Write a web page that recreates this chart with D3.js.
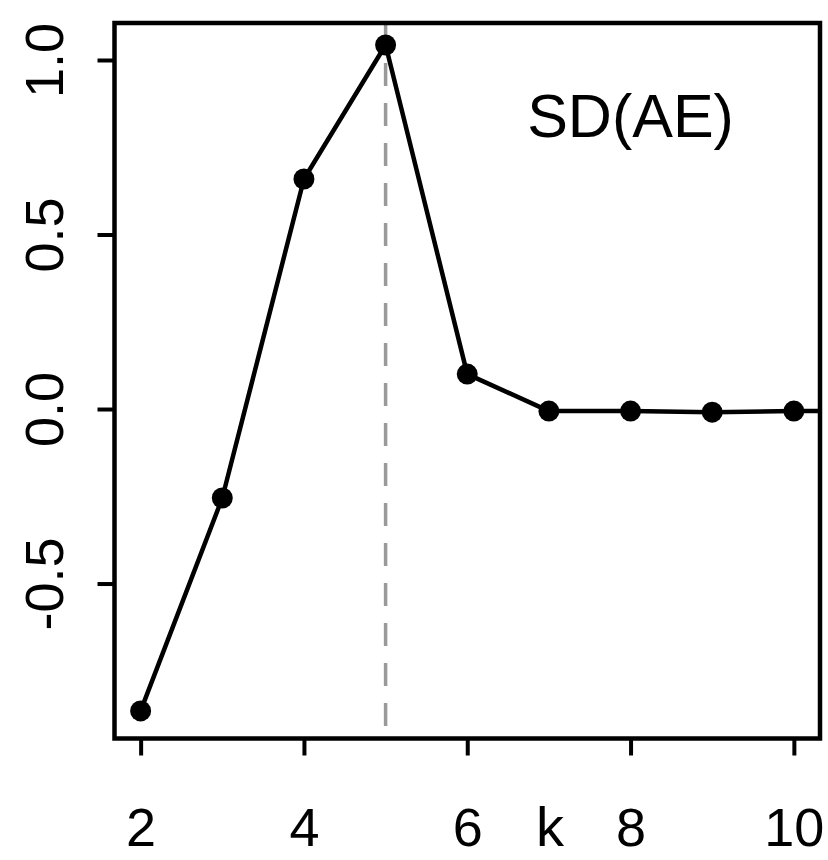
<!DOCTYPE html>
<html>
<head>
<meta charset="utf-8">
<script src="https://cdn.jsdelivr.net/npm/d3@7"></script>
<style>
  body { margin: 0; background: #fff; }
  text { font-family: "Liberation Sans", Arial, sans-serif; fill: #000; }
</style>
</head>
<body>
<div class="chart"></div>
<script>
// values
const K_VALUES = [2, 3, 4, 5, 6, 7, 8, 9, 10, 11];
const SD_AE = [-0.865, -0.255, 0.659, 1.043, 0.10, -0.006, -0.006, -0.009, -0.006, -0.006];
const X_TICKS = [2, 4, 6, 8, 10];
const Y_TICKS = [-0.5, 0.0, 0.5, 1.0];
const BEST_K = 5;
const LABEL = "SD(AE)";

const WIDTH = 828;
const HEIGHT = 860;
const BOX = { left: 114.5, right: 820, top: 23, bottom: 738.5 };
const FONT_SIZE = 54;

const data = K_VALUES.map((k, i) => ({ k: k, v: SD_AE[i] }));

const xScale = d3.scaleLinear().domain([1.68, 10.32]).range([BOX.left, BOX.right]);
const yScale = d3.scaleLinear().domain([-0.944, 1.106]).range([BOX.bottom, BOX.top]);

const svg = d3.select(".chart")
  .append("svg")
  .attr("width", WIDTH)
  .attr("height", HEIGHT);

svg.append("clipPath")
  .attr("id", "plot-clip")
  .append("rect")
  .attr("x", BOX.left)
  .attr("y", BOX.top)
  .attr("width", BOX.right - BOX.left)
  .attr("height", BOX.bottom - BOX.top);

const plot = svg.append("g").attr("clip-path", "url(#plot-clip)");

// dashed marker at chosen k
plot.append("line")
  .attr("x1", xScale(BEST_K))
  .attr("x2", xScale(BEST_K))
  .attr("y1", BOX.top)
  .attr("y2", BOX.bottom)
  .attr("stroke", "#9a9a9a")
  .attr("stroke-width", 3.5)
  .attr("stroke-dasharray", "23 17");

const line = d3.line().x(d => xScale(d.k)).y(d => yScale(d.v));

plot.append("path")
  .datum(data)
  .attr("d", line)
  .attr("fill", "none")
  .attr("stroke", "#000")
  .attr("stroke-width", 4.5)
  .attr("stroke-linejoin", "round");

plot.selectAll("circle")
  .data(data)
  .join("circle")
  .attr("cx", d => xScale(d.k))
  .attr("cy", d => yScale(d.v))
  .attr("r", 10.5)
  .attr("fill", "#000");

// box
svg.append("rect")
  .attr("x", BOX.left)
  .attr("y", BOX.top)
  .attr("width", BOX.right - BOX.left)
  .attr("height", BOX.bottom - BOX.top)
  .attr("fill", "none")
  .attr("stroke", "#000")
  .attr("stroke-width", 4.5);

// x axis
const xAxis = svg.append("g")
  .attr("transform", `translate(0, ${BOX.bottom})`)
  .call(d3.axisBottom(xScale).tickValues(X_TICKS).tickSize(17).tickPadding(0).tickFormat(d3.format("d")));
xAxis.select(".domain").remove();
xAxis.selectAll(".tick line").attr("stroke-width", 4);
xAxis.selectAll(".tick text")
  .attr("y", 107)
  .attr("dy", null)
  .attr("font-size", FONT_SIZE)
  .attr("font-family", null);

// y axis, labels rotated like R's default
const yAxis = svg.append("g")
  .attr("transform", `translate(${BOX.left}, 0)`)
  .call(d3.axisLeft(yScale).tickValues(Y_TICKS).tickSize(17).tickFormat(d3.format(".1f")));
yAxis.select(".domain").remove();
yAxis.selectAll(".tick line").attr("stroke-width", 4);
yAxis.selectAll(".tick text")
  .attr("x", null)
  .attr("dy", null)
  .attr("text-anchor", "middle")
  .attr("transform", "translate(-52, 0) rotate(-90)")
  .attr("font-size", FONT_SIZE)
  .attr("font-family", null)
  .text(d => d3.format(".1f")(d).replace("−", "-"));

// axis title sits among the tick labels
svg.append("text")
  .attr("x", 550)
  .attr("y", 846)
  .attr("text-anchor", "middle")
  .attr("font-size", 56)
  .text("k");

svg.append("text")
  .attr("x", xScale(8))
  .attr("y", 137)
  .attr("text-anchor", "middle")
  .attr("font-size", 61)
  .text(LABEL);
</script>
</body>
</html>
